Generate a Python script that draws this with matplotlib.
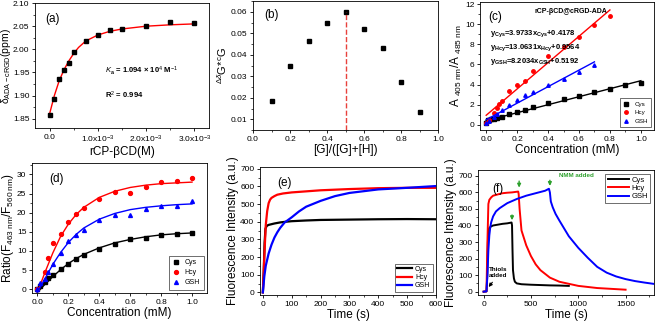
import matplotlib
matplotlib.use("Agg")
import matplotlib.pyplot as plt
from matplotlib.ticker import AutoMinorLocator, FuncFormatter

plt.rcParams['font.family'] = ['Liberation Sans', 'DejaVu Sans']
plt.rcParams['mathtext.fontset'] = 'custom'
plt.rcParams['mathtext.rm'] = 'Liberation Sans'
plt.rcParams['mathtext.it'] = 'Liberation Sans:italic'
plt.rcParams['mathtext.bf'] = 'Liberation Sans:bold'

# ---- (a) NMR titration
a_conc = [0, 1e-4, 2e-4, 3e-4, 4e-4, 5e-4, 7.5e-4, 1e-3, 1.25e-3, 1.5e-3, 2e-3, 2.5e-3, 3e-3]
a_shift = [1.858, 1.892, 1.935, 1.955, 1.970, 1.995, 2.018, 2.032, 2.041, 2.044, 2.051, 2.059, 2.057]
a_fit_x = [0, 1e-4, 2e-4, 3e-4, 4e-4, 5e-4, 6e-4, 7.5e-4, 1e-3, 1.25e-3, 1.5e-3, 2e-3, 2.5e-3, 3e-3]
a_fit_y = [1.860, 1.900, 1.932, 1.956, 1.975, 1.991, 2.004, 2.018, 2.031, 2.039, 2.044, 2.050, 2.053, 2.055]

# ---- (b) Job plot
b_frac = [0.1, 0.2, 0.3, 0.4, 0.5, 0.6, 0.7, 0.8, 0.9]
b_val = [0.0185, 0.035, 0.0465, 0.055, 0.060, 0.052, 0.0433, 0.0272, 0.0135]

# ---- (c) absorbance ratio
c_x_cys = [0, 0.01, 0.02, 0.03, 0.05, 0.07, 0.1, 0.15, 0.2, 0.25, 0.3, 0.4, 0.5, 0.6, 0.7, 0.8, 0.9, 1.0]
c_y_cys = [0.2, 0.45, 0.5, 0.55, 0.6, 0.7, 0.8, 1.05, 1.3, 1.5, 1.75, 2.2, 2.55, 2.9, 3.25, 3.55, 3.95, 4.2]
c_x_hcy = [0, 0.02, 0.05, 0.07, 0.08, 0.1, 0.15, 0.2, 0.25, 0.3, 0.4, 0.5, 0.6, 0.7, 0.8]
c_y_hcy = [0.17, 0.5, 1.2, 1.7, 2.1, 2.4, 3.4, 4.0, 4.4, 5.35, 6.8, 7.7, 8.7, 9.9, 10.8]
c_x_gsh = [0, 0.02, 0.05, 0.07, 0.1, 0.15, 0.2, 0.25, 0.3, 0.4, 0.5, 0.6, 0.7]
c_y_gsh = [0.15, 0.4, 0.8, 1.1, 1.5, 2.0, 2.5, 3.0, 3.3, 4.0, 4.6, 5.3, 5.9]
c_fit_cys = ([0, 1.0], [0.42, 4.39])
c_fit_hcy = ([0, 0.8], [0.96, 11.41])
c_fit_gsh = ([0, 0.7], [0.52, 6.26])

# ---- (d) fluorescence ratio
d_x = [0, 0.02, 0.05, 0.07, 0.1, 0.15, 0.2, 0.25, 0.3, 0.4, 0.5, 0.6, 0.7, 0.8, 0.9, 1.0]
d_cys = [0, 0.8, 2.0, 2.8, 3.6, 5.3, 6.7, 7.9, 9.0, 10.6, 11.9, 13.0, 13.5, 14.1, 14.4, 14.6]
d_x_hcy = [0, 0.05, 0.07, 0.1, 0.15, 0.2, 0.25, 0.3, 0.4, 0.5, 0.6, 0.7, 0.8, 0.9, 1.0]
d_hcy = [0, 4.6, 8.1, 12.1, 14.4, 17.5, 19.7, 21.2, 23.5, 25.4, 25.2, 26.6, 28.0, 28.3, 29.0]
d_gsh = [0, 1.5, 2.6, 4.4, 6.5, 9.5, 12.6, 14.1, 15.6, 18.0, 19.3, 19.4, 21.0, 21.8, 21.8, 23.0]
d_fit_x = [0, 0.05, 0.1, 0.15, 0.2, 0.25, 0.3, 0.4, 0.5, 0.6, 0.7, 0.8, 0.9, 1.0]
d_fit_cys = [-0.8, 1.3, 3.3, 5.1, 6.7, 8.0, 9.1, 10.8, 12.1, 13.0, 13.7, 14.2, 14.5, 14.7]
d_fit_hcy = [-0.8, 4.5, 9.5, 13.8, 17.0, 19.5, 21.4, 24.0, 25.6, 26.6, 27.2, 27.6, 27.8, 28.0]
d_fit_gsh = [-0.8, 2.8, 6.5, 9.6, 12.2, 14.3, 16.0, 18.3, 19.8, 20.8, 21.4, 21.8, 22.1, 22.3]

# ---- (e) kinetics
e_t_cys = [0, 3, 6, 9, 12, 15, 20, 30, 40, 60, 80, 100, 150, 200, 300, 400, 500, 600]
e_cys = [0, 120, 280, 360, 372, 378, 382, 386, 390, 396, 400, 403, 407, 410, 412, 414, 415, 414]
e_t_hcy = [0, 5, 10, 15, 20, 25, 30, 40, 50, 70, 100, 150, 200, 300, 400, 500, 600]
e_hcy = [0, 200, 380, 460, 505, 525, 535, 545, 553, 560, 566, 572, 578, 585, 590, 592, 592]
e_t_gsh = [0, 5, 10, 20, 30, 40, 50, 60, 75, 100, 125, 150, 200, 250, 300, 400, 500, 600]
e_gsh = [0, 90, 150, 220, 270, 310, 340, 365, 395, 425, 458, 485, 518, 545, 563, 583, 592, 602]

# ---- (f) kinetics with NMM
f_t_cys = [0, 30, 38, 45, 50, 60, 80, 100, 150, 200, 250, 295, 300, 305, 310, 320, 330, 350, 400, 500, 600, 700, 800, 900]
f_cys = [0, 2, 100, 300, 370, 385, 395, 400, 405, 410, 413, 418, 400, 250, 130, 80, 60, 50, 45, 42, 40, 38, 37, 35]
f_t_hcy = [0, 30, 40, 50, 60, 80, 100, 150, 200, 250, 300, 365, 370, 380, 400, 450, 500, 550, 600, 700, 800, 1000, 1200, 1500]
f_hcy = [0, 2, 300, 530, 555, 570, 580, 588, 595, 598, 600, 605, 590, 500, 370, 280, 215, 165, 130, 85, 60, 35, 22, 12]
f_t_gsh = [0, 30, 40, 50, 60, 70, 80, 100, 130, 170, 250, 350, 450, 550, 650, 690, 700, 710, 730, 760, 800, 900, 1000, 1100, 1200, 1300, 1400, 1500, 1600, 1700, 1800]
f_gsh = [0, 2, 100, 250, 340, 390, 420, 455, 485, 505, 535, 560, 580, 595, 610, 622, 600, 545, 510, 470, 430, 335, 265, 205, 150, 115, 92, 76, 64, 55, 47]

names = ["Cys", "Hcy", "GSH"]
colors = ["black", "red", "blue"]
markers = ["s", "o", "^"]

fig = plt.figure(figsize=(6.57, 3.22), dpi=100)


def style(ax, xminor=2, yminor=2):
    ax.tick_params(direction="out", length=2.5, width=0.6, labelsize=6, pad=1.5)
    ax.tick_params(which="minor", direction="out", length=1.5, width=0.5)
    ax.xaxis.set_minor_locator(AutoMinorLocator(xminor))
    ax.yaxis.set_minor_locator(AutoMinorLocator(yminor))
    for s in ax.spines.values():
        s.set_linewidth(0.6)


# (a)
ax = fig.add_axes([0.0533, 0.6025, 0.2648, 0.388])
ax.plot(a_fit_x, a_fit_y, color="red", lw=1.0)
ax.plot(a_conc, a_shift, "s", color="black", ms=2.5)
ax.set_xlim(-0.3e-3, 3.3e-3)
ax.set_ylim(1.83, 2.10)
ax.set_xticks([0, 1e-3, 2e-3, 3e-3])
ax.xaxis.set_major_formatter(FuncFormatter(
    lambda v, p: "0.0" if v == 0 else "%.1fx10$^{-3}$" % (v * 1e3)))
ax.set_yticks([1.85, 1.90, 1.95, 2.00, 2.05, 2.10])
style(ax)
ax.set_xlabel("rCP-βCD(M)", fontsize=8.5, labelpad=1)
ax.set_ylabel("δ$_{\\mathrm{ADA-cRGD}}$(ppm)", fontsize=7.5, labelpad=0)
ax.text(0.06, 0.92, "(a)", transform=ax.transAxes, fontsize=8.5, va="top")
ax.text(1.15e-3, 1.953, "$\\mathbf{\\it{K}}_{\\mathbf{a}}$ = 1.094 × 10$^{4}$ M$^{-1}$",
        fontsize=5.5, fontweight="bold", va="center")
ax.text(1.15e-3, 1.900, "R$^{2}$ = 0.994", fontsize=5.5, fontweight="bold", va="center")

# (b)
ax = fig.add_axes([0.3851, 0.5963, 0.2816, 0.400])
ax.plot(b_frac, b_val, "s", color="black", ms=2.5)
ax.plot([0.5, 0.5], [0.005, 0.060], "--", color="#e8413c", lw=1.0)
ax.set_xlim(0, 1.0)
ax.set_ylim(0.005, 0.065)
ax.set_xticks([0.0, 0.2, 0.4, 0.6, 0.8, 1.0])
ax.set_yticks([0.01, 0.02, 0.03, 0.04, 0.05, 0.06])
style(ax)
ax.set_xlabel("[G]/([G]+[H])", fontsize=8.5, labelpad=1)
ax.set_ylabel("$^{\\Delta\\delta}$G*$^{\\mathrm{c}}$G", fontsize=8, labelpad=1)
ax.text(0.06, 0.94, "(b)", transform=ax.transAxes, fontsize=8.5, va="top")

# (c)
ax = fig.add_axes([0.7306, 0.5963, 0.2648, 0.3975])
c_pts = [(c_x_cys, c_y_cys), (c_x_hcy, c_y_hcy), (c_x_gsh, c_y_gsh)]
c_fits = [c_fit_cys, c_fit_hcy, c_fit_gsh]
for (xs, ys), (fx, fy), n, c, m in zip(c_pts, c_fits, names, colors, markers):
    ax.plot(fx, fy, color=c, lw=1.0)
    ax.plot(xs, ys, m, color=c, ms=2.5, label=n)
ax.set_xlim(-0.04, 1.085)
ax.set_ylim(-0.5, 12.2)
ax.set_xticks([0.0, 0.2, 0.4, 0.6, 0.8, 1.0])
ax.set_yticks([0, 2, 4, 6, 8, 10, 12])
style(ax)
ax.set_xlabel("Concentration (mM)", fontsize=8.5, labelpad=1)
ax.set_ylabel("A $_{\\mathrm{405\\ nm}}$/A $_{\\mathrm{485\\ nm}}$", fontsize=8.5, labelpad=1)
ax.text(0.05, 0.93, "(c)", transform=ax.transAxes, fontsize=8.5, va="top")
ax.text(0.52, 0.955, "rCP-βCD@cRGD-ADA", transform=ax.transAxes, fontsize=5,
        fontweight="bold", ha="center", va="top")
eqs = ["y$_{\\mathbf{Cys}}$=3.9733x$_{\\mathbf{Cys}}$+0.4178",
       "y$_{\\mathbf{Hcy}}$=13.0631x$_{\\mathbf{Hcy}}$+0.9564",
       "y$_{\\mathbf{GSH}}$=8.2034x$_{\\mathbf{GSH}}$+0.5192"]
for i, e in enumerate(eqs):
    ax.text(0.06, 0.755 - i * 0.108, e, transform=ax.transAxes, fontsize=5.5,
            fontweight="bold", va="center")
ax.legend(loc="lower right", fontsize=4.5, frameon=True, fancybox=False,
          edgecolor="black", handlelength=1.0, handletextpad=0.8,
          borderpad=0.5, labelspacing=0.5, markerscale=1.0).get_frame().set_linewidth(0.5)

# (d)
ax = fig.add_axes([0.0487, 0.0901, 0.2664, 0.4037])
d_pts = [(d_x, d_cys), (d_x_hcy, d_hcy), (d_x, d_gsh)]
d_fits = [d_fit_cys, d_fit_hcy, d_fit_gsh]
for (xs, ys), fy, n, c, m in zip(d_pts, d_fits, names, colors, markers):
    ax.plot(d_fit_x, fy, color=c, lw=1.0)
    ax.plot(xs, ys, m, color=c, ms=2.8, label=n)
ax.set_xlim(-0.035, 1.097)
ax.set_ylim(-1, 33)
ax.set_xticks([0.0, 0.2, 0.4, 0.6, 0.8, 1.0])
ax.set_yticks([0, 5, 10, 15, 20, 25, 30])
style(ax)
ax.set_xlabel("Concentration (mM)", fontsize=8.5, labelpad=1)
ax.set_ylabel("Ratio(F$_{\\mathrm{463\\ nm}}$/F$_{\\mathrm{560\\ nm}}$)", fontsize=8.5, labelpad=1)
ax.text(0.1, 0.92, "(d)", transform=ax.transAxes, fontsize=8.5, va="top")
ax.legend(loc="lower right", fontsize=5, frameon=True, fancybox=False,
          edgecolor="black", handlelength=1.0, handletextpad=0.8,
          borderpad=0.5, labelspacing=0.4).get_frame().set_linewidth(0.5)

# (e)
ax = fig.add_axes([0.3957, 0.0839, 0.2679, 0.3975])
for ts, ys, n, c in zip([e_t_cys, e_t_hcy, e_t_gsh], [e_cys, e_hcy, e_gsh], names, colors):
    ax.plot(ts, ys, color=c, lw=1.6, label=n)
ax.set_xlim(-10, 600)
ax.set_ylim(-15, 710)
ax.set_xticks([0, 100, 200, 300, 400, 500, 600])
ax.set_yticks([0, 100, 200, 300, 400, 500, 600, 700])
style(ax)
ax.set_xlabel("Time (s)", fontsize=8.5, labelpad=1)
ax.set_ylabel("Fluorescence Intensity (a.u.)", fontsize=8.5, labelpad=1)
ax.text(0.1, 0.92, "(e)", transform=ax.transAxes, fontsize=8.5, va="top")
ax.legend(loc="lower right", fontsize=5, frameon=True, fancybox=False,
          edgecolor="black", handlelength=2.2, handletextpad=0.4,
          borderpad=0.3, labelspacing=0.2).get_frame().set_linewidth(0.5)

# (f)
ax = fig.add_axes([0.7275, 0.0839, 0.2679, 0.388])
for ts, ys, n, c in zip([f_t_cys, f_t_hcy, f_t_gsh], [f_cys, f_hcy, f_gsh], names, colors):
    ax.plot(ts, ys, color=c, lw=1.4, label=n)
ax.set_xlim(-60, 1800)
ax.set_ylim(-20, 735)
ax.set_xticks([0, 500, 1000, 1500])
ax.set_yticks([0, 100, 200, 300, 400, 500, 600, 700])
style(ax)
ax.set_xlabel("Time (s)", fontsize=8.5, labelpad=1)
ax.set_ylabel("Fluorescence Intensity (a.u.)", fontsize=8.5, labelpad=1)
ax.text(0.08, 0.9, "(f)", transform=ax.transAxes, fontsize=8.5, va="top")
green = "#2ca02c"
for x0, y0, y1 in [(300, 480, 415), (375, 685, 612), (700, 690, 622)]:
    ax.annotate("", xy=(x0, y1), xytext=(x0, y0),
                arrowprops=dict(arrowstyle="-|>", color=green, lw=1.0, mutation_scale=5))
ax.text(980, 705, "NMM added", color=green, fontsize=4.5, fontweight="bold", ha="center", va="center")
ax.text(150, 115, "Thiols\nadded", fontsize=4.5, fontweight="bold", ha="center", va="center",
        linespacing=1.1)
ax.annotate("", xy=(35, 15), xytext=(110, 70),
            arrowprops=dict(arrowstyle="-|>", color="black", lw=0.8, mutation_scale=5))
ax.legend(loc="upper right", fontsize=5.5, frameon=True, fancybox=False,
          edgecolor="black", handlelength=2.8, handletextpad=0.3,
          borderpad=0.3, labelspacing=0.15).get_frame().set_linewidth(0.5)

fig.savefig("out.png", dpi=100)
